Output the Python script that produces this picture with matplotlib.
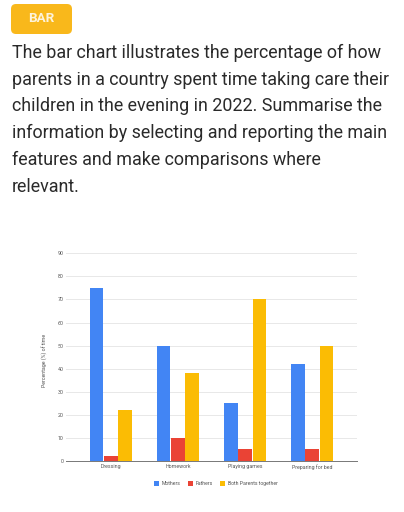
import matplotlib
matplotlib.use("Agg")
import matplotlib.pyplot as plt
from matplotlib.patches import FancyBboxPatch

W, H = 404, 512
categories = ["Dressing", "Homework", "Playing games", "Preparing for bed"]
mothers = [75, 50, 25, 42]
fathers = [2, 10, 5, 5]
both = [22, 38, 70, 50]
series_names = ["Mothers", "Fathers", "Both Parents together"]
colors = ["#4285F4", "#EA4335", "#FBBC04"]
yticks = list(range(0, 100, 10))
badge = "BAR"
lines = [
    "The bar chart illustrates the percentage of how",
    "parents in a country spent time taking care their",
    "children in the evening in 2022. Summarise the",
    "information by selecting and reporting the main",
    "features and make comparisons where",
    "relevant.",
]

plt.rcParams["font.family"] = ["Roboto", "DejaVu Sans"]
fig = plt.figure(figsize=(W / 100, H / 100), dpi=100, facecolor="white")

bg = fig.add_axes([0, 0, 1, 1])
bg.set_xlim(0, W)
bg.set_ylim(H, 0)
bg.axis("off")
bg.add_patch(FancyBboxPatch((11, 4), 61, 30, boxstyle="round,pad=0,rounding_size=5",
                            fc="#F9B81B", ec="none", mutation_aspect=1))
bg.text(41.5, 18.3, badge, color="#FDF3DC", fontsize=9.6, fontweight="bold",
        ha="center", va="center")
for i, line in enumerate(lines):
    bg.text(12, 53 + i * 26.7, line, color="#2A2A2A", fontsize=12.85, va="center", ha="left")

ax = fig.add_axes([66 / W, 1 - 461 / H, (357 - 66) / W, (461 - 253.3) / H])
w = 0.213
for k, (vals, name, c) in enumerate(zip([mothers, fathers, both], series_names, colors)):
    ax.bar([i + (k - 1) * w for i in range(len(categories))], vals, width=w * 0.95,
           color=c, label=name, zorder=3)
ax.set_xlim(-0.67, 3.67)
ax.set_ylim(0, 90)
ax.set_yticks(yticks)
ax.set_xticks(range(len(categories)))
ax.set_xticklabels(categories)
ax.tick_params(length=0, labelsize=3.8, labelcolor="#555555")
ax.tick_params(axis="x", pad=2.2)
ax.tick_params(axis="y", pad=1.6)
ax.grid(axis="y", color="#E8E8E8", lw=0.7, zorder=0)
for s in ("top", "left", "right"):
    ax.spines[s].set_visible(False)
ax.spines["bottom"].set_color("#777777")
ax.spines["bottom"].set_linewidth(0.7)
ax.set_axisbelow(True)
bg.text(44.5, 360, "Percentage (%) of time", fontsize=3.8, color="#555555",
        rotation=90, ha="center", va="center")
ax.legend(loc="center", bbox_to_anchor=(0.515, -0.11), ncol=3, frameon=False, fontsize=3.7,
          labelcolor="#555555", handlelength=1.0, handleheight=1.0, handletextpad=0.6, columnspacing=1.3,
          borderpad=0, borderaxespad=0)
fig.savefig("out.png", dpi=100)
